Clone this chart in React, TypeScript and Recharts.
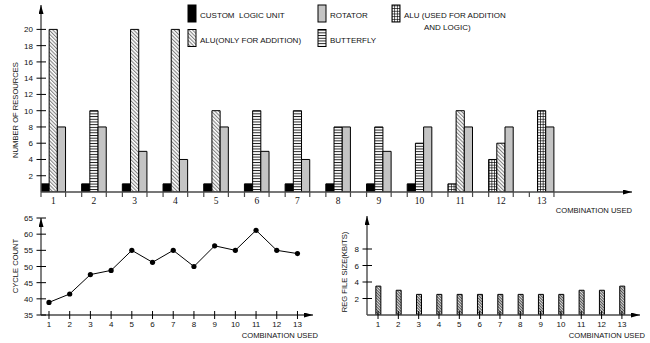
import React from 'react';
import { BarChart, Bar, LineChart, Line, XAxis, YAxis, Cell } from 'recharts';

// combinations on the x axis of all three charts
const combos = [1, 2, 3, 4, 5, 6, 7, 8, 9, 10, 11, 12, 13];

// top chart: three bar slots per combination
const firstUnit = ['clu', 'clu', 'clu', 'clu', 'clu', 'clu', 'clu', 'clu', 'clu', 'clu', 'aluLogic', 'aluLogic', null];
const firstCount = [1, 1, 1, 1, 1, 1, 1, 1, 1, 1, 1, 4, null];
const secondUnit = ['aluAdd', 'butterfly', 'aluAdd', 'aluAdd', 'aluAdd', 'butterfly', 'butterfly', 'butterfly', 'butterfly', 'butterfly', 'aluAdd', 'aluAdd', 'aluLogic'];
const secondCount = [20, 10, 20, 20, 10, 10, 10, 8, 8, 6, 10, 6, 10];
const rotatorCount = [8, 8, 5, 4, 8, 5, 4, 8, 5, 8, 8, 8, 8];
const resourceTicks = [2, 4, 6, 8, 10, 12, 14, 16, 18, 20];

// bottom left
const cycleCount = [38.9, 41.5, 47.5, 48.8, 55, 51.3, 55, 50, 56.4, 55, 61.2, 55, 54];
const cycleTicks = [35, 40, 45, 50, 55, 60, 65];

// bottom right
const regFileKbits = [3.5, 3, 2.5, 2.5, 2.5, 2.5, 2.5, 2.5, 2.5, 2.5, 3, 3, 3.5];
const regTicks = [2, 4, 6, 8];

const legendItems = [
  { unit: 'clu', label: 'CUSTOM  LOGIC UNIT' },
  { unit: 'rotator', label: 'ROTATOR' },
  { unit: 'aluLogic', label: 'ALU (USED FOR ADDITION', label2: 'AND LOGIC)' },
  { unit: 'aluAdd', label: 'ALU(ONLY FOR ADDITION)' },
  { unit: 'butterfly', label: 'BUTTERFLY' },
];

const unitFill: Record<string, string> = {
  clu: '#000',
  rotator: '#c4c4c4',
  aluAdd: 'url(#pHatch)',
  butterfly: 'url(#pStripe)',
  aluLogic: 'url(#pGrid)',
};

const SANS = '"Liberation Sans", Arial, sans-serif';
const SERIF = '"Liberation Serif", "Times New Roman", serif';
const AXIS = '#4a4a4a';
const BAR = 8.2;
const HALF = BAR * 1.5;

const resourceData = combos.map((c, i) => ({
  combo: c,
  first: firstCount[i],
  second: secondCount[i],
  rotator: rotatorCount[i],
}));
const cycleData = combos.map((c, i) => ({ combo: c, cycles: cycleCount[i] }));
const regData = combos.map((c, i) => ({ combo: c, kbits: regFileKbits[i] }));

const axisLineX = { stroke: AXIS, strokeWidth: 1.4, markerEnd: 'url(#arrowHead)' };
const axisLineY = { stroke: AXIS, strokeWidth: 1.4, markerStart: 'url(#arrowHead)' };

function GroupTick(props: any) {
  const { x, y, payload } = props;
  return (
    <g>
      <line x1={x - HALF} x2={x - HALF} y1={y} y2={y + 5} stroke={AXIS} strokeWidth={1.2} />
      <line x1={x + HALF} x2={x + HALF} y1={y} y2={y + 5} stroke={AXIS} strokeWidth={1.2} />
      <text x={x} y={y + 12} textAnchor="middle" fontFamily={SERIF} fontSize={9.5} fill="#111">
        {payload.value}
      </text>
    </g>
  );
}

function CrossTickX(props: any) {
  const { x, y, payload } = props;
  return (
    <g>
      <line x1={x} x2={x} y1={y - 4} y2={y + 4} stroke="#000" strokeWidth={1} />
      <text x={x} y={y + 12} textAnchor="middle" fontFamily={SANS} fontSize={8} fill="#111">
        {payload.value}
      </text>
    </g>
  );
}

function CrossTickY(props: any) {
  const { x, y, payload } = props;
  return (
    <g>
      <line x1={x - 4.5} x2={x + 5} y1={y} y2={y} stroke="#000" strokeWidth={1} />
      <text x={x - 8} y={y + 3} textAnchor="end" fontFamily={SANS} fontSize={8} fill="#111">
        {payload.value}
      </text>
    </g>
  );
}

const fixedText = (text: string, x: number, y: number, rotate = false) => () =>
  (
    <text
      x={x}
      y={y}
      textAnchor={rotate ? 'middle' : 'end'}
      transform={rotate ? `rotate(-90 ${x} ${y})` : undefined}
      fontFamily={SANS}
      fontSize={7.6}
      fill="#111"
    >
      {text}
    </text>
  );

function Legend() {
  const cols = [188, 318, 392];
  const rows = [5, 29.5];
  return (
    <svg width={650} height={50} style={{ position: 'absolute', left: 0, top: 0 }}>
      {legendItems.map((it, i) => {
        const x = cols[i % 3];
        const y = rows[Math.floor(i / 3)];
        return (
          <g key={it.label}>
            <rect x={x} y={y} width={8} height={17} fill={unitFill[it.unit]} stroke="#000" strokeWidth={1} />
            <text x={x + 12} y={y + 13.3} fontFamily={SANS} fontSize={8} fill="#111" style={{ whiteSpace: 'pre' }}>
              {it.label}
            </text>
            {it.label2 && (
              <text x={x + 32} y={y + 25} fontFamily={SANS} fontSize={8} fill="#111">
                {it.label2}
              </text>
            )}
          </g>
        );
      })}
    </svg>
  );
}

export default function App() {
  return (
    <div style={{ position: 'absolute', left: 0, top: 0, width: 650, height: 343, background: '#fff' }}>
      <svg width={0} height={0} style={{ position: 'absolute' }}>
        <defs>
          <pattern id="pHatch" width={2.6} height={2.6} patternUnits="userSpaceOnUse" patternTransform="rotate(-45)">
            <rect width={2.6} height={2.6} fill="#fff" />
            <line x1={0.6} y1={0} x2={0.6} y2={2.6} stroke="#555" strokeWidth={0.8} />
          </pattern>
          <pattern id="pHatch2" width={2} height={2} patternUnits="userSpaceOnUse" patternTransform="rotate(-45)">
            <rect width={2} height={2} fill="#ddd" />
            <line x1={0.5} y1={0} x2={0.5} y2={2} stroke="#444" strokeWidth={0.9} />
          </pattern>
          <pattern id="pStripe" width={4} height={2.7} patternUnits="userSpaceOnUse">
            <rect width={4} height={2.7} fill="#fff" />
            <line x1={0} y1={0.5} x2={4} y2={0.5} stroke="#000" strokeWidth={0.9} />
          </pattern>
          <pattern id="pGrid" width={2.7} height={2.7} patternUnits="userSpaceOnUse">
            <rect width={2.7} height={2.7} fill="#fff" />
            <line x1={0} y1={0.4} x2={2.7} y2={0.4} stroke="#000" strokeWidth={0.7} />
            <line x1={0.4} y1={0} x2={0.4} y2={2.7} stroke="#000" strokeWidth={0.7} />
          </pattern>
          <marker
            id="arrowHead"
            viewBox="0 0 9 5"
            refX={9}
            refY={2.5}
            markerWidth={9}
            markerHeight={5}
            markerUnits="userSpaceOnUse"
            orient="auto-start-reverse"
          >
            <path d="M0,0 L9,2.5 L0,5 z" fill="#000" />
          </marker>
        </defs>
      </svg>

      <div style={{ position: 'absolute', left: 0, top: 0 }}>
        <BarChart width={650} height={215} data={resourceData} margin={{ top: 5, right: 18, left: 0, bottom: 0 }} barGap={0}>
          <XAxis
            dataKey="combo"
            type="number"
            domain={[0.698, 15.22]}
            allowDataOverflow
            ticks={combos}
            interval={0}
            height={23}
            tickSize={0}
            tickMargin={0}
            tickLine={false}
            axisLine={axisLineX}
            tick={GroupTick}
            label={fixedText('COMBINATION USED', 632, 213)}
          />
          <YAxis
            type="number"
            domain={[0, 23]}
            allowDataOverflow
            ticks={resourceTicks}
            interval={0}
            width={41}
            tickSize={0}
            tickMargin={0}
            tickLine={false}
            axisLine={axisLineY}
            tick={CrossTickY}
            label={fixedText('NUMBER OF RESOURCES', 18, 110, true)}
          />
          <Bar dataKey="first" barSize={BAR} stroke="#000" strokeWidth={1} isAnimationActive={false}>
            {resourceData.map((_, i) => (
              <Cell key={i} fill={firstUnit[i] ? unitFill[firstUnit[i] as string] : 'none'} />
            ))}
          </Bar>
          <Bar dataKey="second" barSize={BAR} stroke="#000" strokeWidth={1} isAnimationActive={false}>
            {resourceData.map((_, i) => (
              <Cell key={i} fill={unitFill[secondUnit[i]]} />
            ))}
          </Bar>
          <Bar dataKey="rotator" barSize={BAR} fill={unitFill.rotator} stroke="#000" strokeWidth={1} isAnimationActive={false} />
        </BarChart>
      </div>

      <Legend />

      <div style={{ position: 'absolute', left: 0, top: 210 }}>
        <LineChart width={330} height={133} data={cycleData} margin={{ top: 8, right: 17, left: 0, bottom: 0 }}>
          <XAxis
            dataKey="combo"
            type="number"
            domain={[0.614, 13.75]}
            allowDataOverflow
            ticks={combos}
            interval={0}
            height={28}
            tickSize={0}
            tickMargin={0}
            tickLine={false}
            axisLine={axisLineX}
            tick={CrossTickX}
            label={fixedText('COMBINATION USED', 318, 128)}
          />
          <YAxis
            type="number"
            domain={[35, 65]}
            allowDataOverflow
            ticks={cycleTicks}
            interval={0}
            width={41}
            tickSize={0}
            tickMargin={0}
            tickLine={false}
            axisLine={axisLineY}
            tick={CrossTickY}
            label={fixedText('CYCLE COUNT', 18, 56, true)}
          />
          <Line
            dataKey="cycles"
            type="linear"
            stroke="#000"
            strokeWidth={1}
            dot={{ r: 2.6, fill: '#000', stroke: '#000', strokeWidth: 0 }}
            isAnimationActive={false}
          />
        </LineChart>
      </div>

      <div style={{ position: 'absolute', left: 330, top: 210 }}>
        <BarChart width={320} height={133} data={regData} margin={{ top: 6, right: 10, left: 0, bottom: 0 }}>
          <XAxis
            dataKey="combo"
            type="number"
            domain={[0.458, 13.89]}
            allowDataOverflow
            ticks={combos}
            interval={0}
            height={28}
            tickSize={0}
            tickMargin={0}
            tickLine={false}
            axisLine={axisLineX}
            tick={CrossTickX}
            label={fixedText('COMBINATION USED', 315, 128)}
          />
          <YAxis
            type="number"
            domain={[0, 12]}
            allowDataOverflow
            ticks={regTicks}
            interval={0}
            width={37}
            tickSize={0}
            tickMargin={0}
            tickLine={false}
            axisLine={axisLineY}
            tick={CrossTickY}
            label={fixedText('REG FILE SIZE(KBITS)', 17, 62, true)}
          />
          <Bar dataKey="kbits" barSize={5} fill="url(#pHatch2)" stroke="#000" strokeWidth={1} isAnimationActive={false} />
        </BarChart>
      </div>
    </div>
  );
}
